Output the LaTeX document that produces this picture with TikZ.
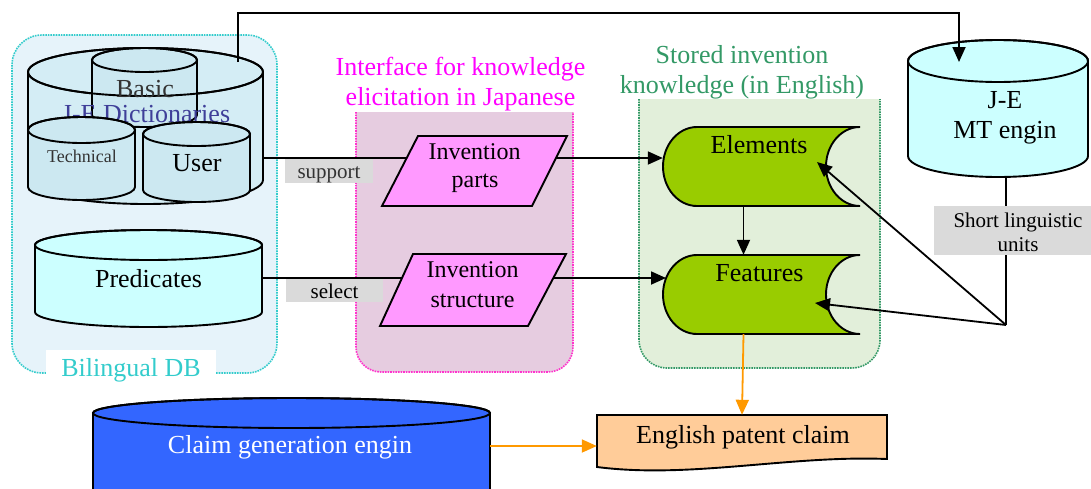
\documentclass[tikz,border=0pt]{standalone}
\usepackage{fontspec}
\setmainfont{Liberation Serif}
\usetikzlibrary{arrows.meta,fit}

\definecolor{dbfill}{HTML}{E6F3FA}
\definecolor{dbedge}{HTML}{33CCCC}
\definecolor{dictfill}{HTML}{D4EDF5}
\definecolor{subfill}{HTML}{CCE8F1}
\definecolor{cyanfill}{HTML}{CCFFFF}
\definecolor{ifill}{HTML}{E6CCE0}
\definecolor{iedge}{HTML}{FF33CC}
\definecolor{ititle}{HTML}{FF00FF}
\definecolor{sfill}{HTML}{E2EFDA}
\definecolor{sedge}{HTML}{339966}
\definecolor{paraf}{HTML}{FF99FF}
\definecolor{storeg}{HTML}{99CC00}
\definecolor{claimf}{HTML}{FFCC99}
\definecolor{genf}{HTML}{3366FF}
\definecolor{orangeline}{HTML}{FF9900}
\definecolor{tagfill}{HTML}{DADADA}
\definecolor{dictblue}{HTML}{3F3F99}
\definecolor{softblack}{HTML}{333333}

\tikzset{
  outline/.style={draw=black,line width=1.9pt},
  link/.style={draw=black,line width=1.8pt},
  arr/.style={link,-{Triangle[length=15pt,width=13pt]}},
  oarr/.style={draw=orangeline,line width=1.8pt,-{Triangle[length=15pt,width=13pt]}},
  big/.style={font=\fontsize{26}{30}\selectfont,inner sep=0pt,anchor=base},
  mid/.style={font=\fontsize{24}{28}\selectfont,inner sep=0pt,anchor=base},
  small/.style={font=\fontsize{21}{24}\selectfont,inner sep=0pt,anchor=base},
  tiny/.style={font=\fontsize{18}{21}\selectfont,inner sep=0pt,anchor=base},
  tag/.style={fill=tagfill,inner sep=0pt,anchor=north west},
  hull/.style={inner sep=0pt},
  frame/.style={line width=1.6pt,densely dotted},
}

% \dbdrum{left}{right}{lid centre y}{base centre y}{y radius}{fill}
\newcommand\dbdrum[6]{%
  \pgfmathsetmacro\drumrx{(#2-#1)/2}%
  \pgfmathsetmacro\drumcx{(#1+#2)/2}%
  \path[outline,fill=#6] (#1,#3) -- (#1,#4)
    arc[start angle=180,end angle=0,x radius=\drumrx,y radius=#5]
    -- (#2,#3)
    arc[start angle=0,end angle=-180,x radius=\drumrx,y radius=#5] -- cycle;
  \draw[outline] (\drumcx,#3) ellipse[x radius=\drumrx,y radius=#5];
}

\begin{document}
\begin{tikzpicture}[x=1pt,y=-1pt]
\useasboundingbox (0,0) rectangle (1091,488);
\fill[white] (0,0) rectangle (1091,488);

% ---- group frames ----
\draw[frame,draw=dbedge,fill=dbfill,rounded corners=30pt] (12,35) rectangle (277,373);
\path[frame,fill=ifill,draw=iedge] (356,112) [rounded corners=25pt] -- (356,372) -- (573,372) -- (573,112);
\path[frame,fill=sfill,draw=sedge] (639,99) [rounded corners=28pt] -- (639,368) -- (880,368) -- (880,99);

\node[fill=white,inner sep=0pt,minimum width=170pt,minimum height=32pt,anchor=north west] (dblabelbg) at (46,350) {};
\node[big,text=dbedge] (dblabel) at (131,376) {Bilingual DB};

\node[big,text=ititle] (ititleA) at (460.5,75) {Interface for knowledge};
\node[big,text=ititle] (ititleB) at (460.5,105) {elicitation in Japanese};
\node[big,text=sedge] (stitleA) at (742,63) {Stored invention};
\node[big,text=sedge] (stitleB) at (742,93) {knowledge (in English)};

% ---- bilingual dictionaries ----
\dbdrum{28}{263}{72}{180}{24}{dictfill}
\dbdrum{92}{197}{60}{115}{12}{subfill}
\draw[outline] (28,72) arc[start angle=180,end angle=0,x radius=117.5,y radius=24];
\node[big,text=softblack] (basic) at (145,97) {Basic};
\node[big,text=dictblue] (dictlabel) at (146,122) {J-E Dictionaries};
\dbdrum{28}{135}{130}{187}{13}{subfill}
\dbdrum{143}{250}{134}{190}{12}{subfill}
\node[tiny,text=softblack] (technical) at (82,162) {Technical};
\node[big] (user) at (197,171) {User};
\node[hull,fit={(28,48) (263,204)}] (dict) {};

% ---- predicates ----
\dbdrum{35}{262}{245}{312}{15}{cyanfill}
\node[big] (predlabel) at (148.5,287) {Predicates};
\node[hull,fit={(35,230) (262,327)}] (pred) {};

% ---- MT engine ----
\dbdrum{908}{1088}{61}{156}{21}{cyanfill}
\node[big] (mtA) at (1005,108) {J-E};
\node[big] (mtB) at (1005,138) {MT engin};
\node[hull,fit={(908,40) (1088,177)}] (mt) {};

% ---- claim generation engine ----
\dbdrum{93}{490}{413}{492}{15}{genf}
\node[big,text=white] (genlabel) at (290,453) {Claim generation engin};
\node[hull,fit={(93,398) (490,488)}] (gen) {};

% ---- interface parallelograms ----
\draw[outline,fill=paraf] (418,136) -- (567,136) -- (532,206) -- (382,206) -- cycle;
\node[mid] (partsA) at (474.5,159) {Invention};
\node[mid] (partsB) at (475,187) {parts};
\coordinate (partsL) at (406.7,158);
\coordinate (partsR) at (556,158);

\draw[outline,fill=paraf] (413,254) -- (566,254) -- (528,326) -- (380,326) -- cycle;
\node[mid] (structA) at (472.5,277) {Invention};
\node[mid] (structB) at (472.5,307) {structure};
\coordinate (structL) at (402,278);
\coordinate (structR) at (553,278);

% ---- stored knowledge ----
\draw[outline,fill=storeg] (697,127)
  arc[start angle=270,end angle=90,x radius=34,y radius=39.5] -- (860,206)
  arc[start angle=90,end angle=270,x radius=34,y radius=39.5] -- cycle;
\node[big] (elemlabel) at (759,153) {Elements};
\node[hull,fit={(663,127) (860,206)}] (elements) {};

\draw[outline,fill=storeg] (697,255)
  arc[start angle=270,end angle=90,x radius=34,y radius=39.5] -- (860,334)
  arc[start angle=90,end angle=270,x radius=34,y radius=39.5] -- cycle;
\node[big] (featlabel) at (759.5,281) {Features};
\node[hull,fit={(663,255) (860,334)}] (features) {};

% ---- patent claim document ----
\draw[outline,fill=claimf] (597,415) -- (887,415) -- (887,459)
  .. controls (790,455) and (690,479) .. (597,467) -- cycle;
\node[big] (claimlabel) at (743,443) {English patent claim};
\node[hull,fit={(597,415) (887,467)}] (claim) {};

% ---- connectors ----
\coordinate (dictlid) at (238,62);
\coordinate (mtlid) at (959,62);
\draw[arr] (dictlid) -- (238,13) -| (mtlid);

\draw[link] (dict.east |- partsL) -- (partsL);
\draw[arr] (partsR) -- (elements.west |- partsR);
\draw[link] (pred.east |- structL) -- (structL);
\draw[arr] (structR) -- (666,278);

\draw[arr] ([xshift=-18pt]elements.south) -- ([xshift=-18pt]features.north);

\coordinate (hub) at (1006,325);
\coordinate (elemR) at (817,162);
\coordinate (featR) at (815,303);
\draw[link] (mt.south -| hub) -- (hub);
\draw[arr] (hub) -- (elemR);
\draw[arr] (hub) -- (featR);

\draw[oarr] ([xshift=-18pt]features.south) -- (claim.north);
\coordinate (genout) at (490,446);
\draw[oarr] (genout) -- (claim.west |- genout);

% ---- connector tags ----
\node[tag,minimum width=88pt,minimum height=24pt] (supporttag) at (285,159) {};
\node[small,text=softblack] (support) at (329,178) {support};
\node[tag,minimum width=97pt,minimum height=23pt] (selecttag) at (286,279) {};
\node[small] (select) at (334.5,298) {select};
\node[tag,minimum width=157pt,minimum height=49pt] (unitstag) at (934,206) {};
\node[small] (unitsA) at (1018,227) {Short linguistic};
\node[small] (unitsB) at (1018,251) {units};
\end{tikzpicture}
\end{document}
